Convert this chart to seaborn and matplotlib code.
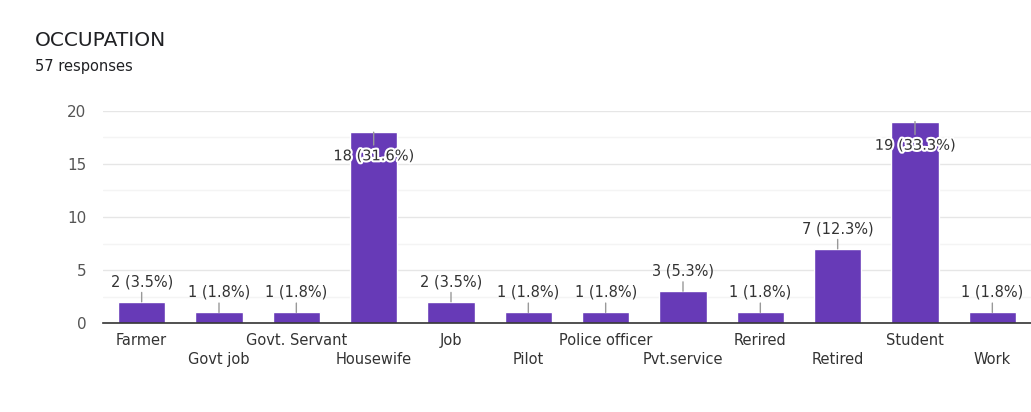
import matplotlib
matplotlib.use("Agg")
import matplotlib.pyplot as plt
import matplotlib.patheffects as pe
import matplotlib.transforms as mtransforms
import seaborn as sns
from matplotlib.ticker import MultipleLocator

occupations = ["Farmer", "Govt job", "Govt. Servant", "Housewife", "Job", "Pilot",
               "Police officer", "Pvt.service", "Rerired", "Retired", "Student", "Work"]
counts = [2, 1, 1, 18, 2, 1, 1, 3, 1, 7, 19, 1]
total = 57

sns.set_style("white")
plt.rcParams["font.family"] = ["DejaVu Sans"]

fig = plt.figure(figsize=(10.31, 4.12), dpi=100)
ax = fig.add_axes([0.0999, 0.216, 0.9001, 0.5146])

sns.barplot(x=occupations, y=counts, color="#673ab7", saturation=1, width=0.61, ax=ax, zorder=3)

ax.set_xlim(-0.5, len(occupations) - 0.5)
ax.set_ylim(0, 20)
ax.yaxis.set_major_locator(MultipleLocator(5))
ax.yaxis.set_minor_locator(MultipleLocator(2.5))
ax.grid(which="major", axis="y", color="#e6e6e6", lw=1, zorder=0)
ax.grid(which="minor", axis="y", color="#f4f4f4", lw=1, zorder=0)
ax.grid(False, axis="x")
for s in ["top", "right", "left"]:
    ax.spines[s].set_visible(False)
ax.spines["bottom"].set_color("#333333")
ax.spines["bottom"].set_linewidth(1.2)
ax.spines["bottom"].set_zorder(4)

ax.set_xticks(range(len(occupations)))
ax.set_xticklabels(occupations, fontsize=10.5, color="#333333")
ax.tick_params(axis="x", length=0, pad=7.5)
ax.tick_params(axis="y", which="both", length=0, pad=12, labelsize=11, colors="#555555")
ax.set_xlabel("")
ax.set_ylabel("")

# every second label goes on a lower row, like the google forms chart
shift = mtransforms.ScaledTranslation(0, -0.185, fig.dpi_scale_trans)
for i, lab in enumerate(ax.get_xticklabels()):
    if i % 2 == 1:
        lab.set_transform(lab.get_transform() + shift)

for i, v in enumerate(counts):
    txt = f"{v} ({v / total * 100:.1f}%)"
    if v >= 16:
        ax.annotate(txt, xy=(i, v), xytext=(0, -17), textcoords="offset points",
                    ha="center", va="center", fontsize=10.5, color="#333333", zorder=6,
                    path_effects=[pe.withStroke(linewidth=3, foreground="white")],
                    arrowprops=dict(arrowstyle="-", color="#999999", lw=1, shrinkA=0, shrinkB=0))
    else:
        ax.annotate(txt, xy=(i, v), xytext=(0, 14.5), textcoords="offset points",
                    ha="center", va="center", fontsize=10.5, color="#333333", zorder=6,
                    arrowprops=dict(arrowstyle="-", color="#999999", lw=1, shrinkA=0, shrinkB=0))

fig.text(35 / 1031, 1 - 41 / 412, "OCCUPATION", fontsize=14.5, color="#202124", va="center")
fig.text(35 / 1031, 1 - 66 / 412, "57 responses", fontsize=10.5, color="#202124", va="center")

fig.savefig("out.png", dpi=100)
